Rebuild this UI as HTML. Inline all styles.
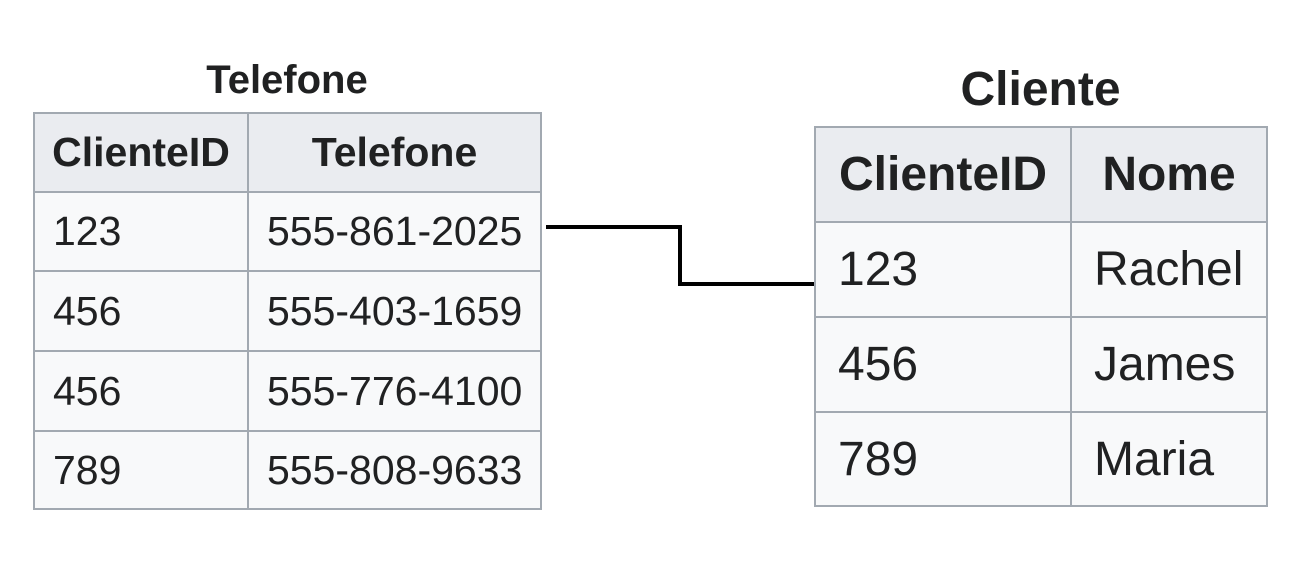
<!DOCTYPE html>
<html><head><meta charset="utf-8"><style>
body{margin:0;width:1314px;height:572px;background:#fff;position:relative;overflow:hidden;font-family:"Liberation Sans",Arial,sans-serif;color:#202122}
.c{position:absolute;box-sizing:border-box;border:2px solid #a2a9b1;background:#f8f9fa;display:flex;align-items:center;white-space:nowrap}
.h{background:#eaecf0;font-weight:bold;justify-content:center}
.t{position:absolute;font-weight:bold;text-align:center;white-space:nowrap}
.L{font-size:41px}.R{font-size:48px}
.L.b{padding-left:18px}.R.b{padding-left:22px}
</style></head><body>
<div class="t" style="left:33px;width:508px;top:58px;font-size:40px">Telefone</div>
<div class="c h L" style="left:33px;top:112px;width:216px;height:81px">ClienteID</div>
<div class="c h L" style="left:247px;top:112px;width:295px;height:81px">Telefone</div>
<div class="c b L" style="left:33px;top:191px;width:216px;height:81px">123</div>
<div class="c b L" style="left:247px;top:191px;width:295px;height:81px">555-861-2025</div>
<div class="c b L" style="left:33px;top:270px;width:216px;height:82px">456</div>
<div class="c b L" style="left:247px;top:270px;width:295px;height:82px">555-403-1659</div>
<div class="c b L" style="left:33px;top:350px;width:216px;height:82px">456</div>
<div class="c b L" style="left:247px;top:350px;width:295px;height:82px">555-776-4100</div>
<div class="c b L" style="left:33px;top:430px;width:216px;height:80px">789</div>
<div class="c b L" style="left:247px;top:430px;width:295px;height:80px">555-808-9633</div>

<div class="t" style="left:814px;width:453px;top:62px;font-size:48px">Cliente</div>
<div class="c h R" style="left:814px;top:126px;width:258px;height:97px">ClienteID</div>
<div class="c h R" style="left:1070px;top:126px;width:198px;height:97px">Nome</div>
<div class="c b R" style="left:814px;top:221px;width:258px;height:97px">123</div>
<div class="c b R" style="left:1070px;top:221px;width:198px;height:97px">Rachel</div>
<div class="c b R" style="left:814px;top:316px;width:258px;height:97px">456</div>
<div class="c b R" style="left:1070px;top:316px;width:198px;height:97px">James</div>
<div class="c b R" style="left:814px;top:411px;width:258px;height:96px">789</div>
<div class="c b R" style="left:1070px;top:411px;width:198px;height:96px">Maria</div>

<svg style="position:absolute;left:0;top:0" width="1314" height="572"><polyline points="546,227 680,227 680,284 814,284" fill="none" stroke="#000" stroke-width="4"/></svg>
</body></html>
